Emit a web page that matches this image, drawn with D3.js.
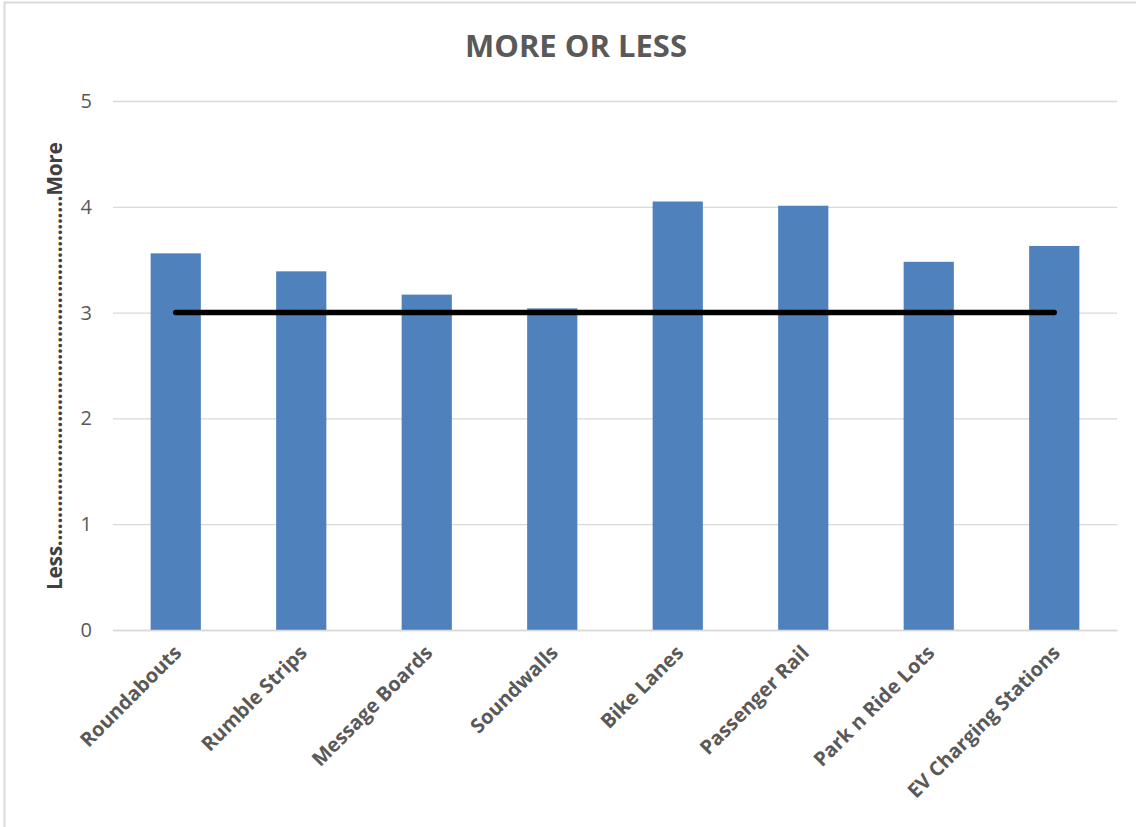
<!DOCTYPE html>
<html><head><meta charset="utf-8">
<script src="https://cdn.jsdelivr.net/npm/d3@7"></script>
<style>body{margin:0;background:#fff}svg{display:block}</style>
</head><body>
<svg id="c" width="1136" height="827"></svg>
<script>
const categories = ["Roundabouts","Rumble Strips","Message Boards","Soundwalls","Bike Lanes","Passenger Rail","Park n Ride Lots","EV Charging Stations"];
const values = [3.56, 3.39, 3.17, 3.04, 4.05, 4.01, 3.48, 3.63];
const baselineValue = [3, 3, 3, 3, 3, 3, 3, 3];
const yTicks = [0, 1, 2, 3, 4, 5];
const title = "MORE OR LESS";
const yLabel = "Less" + ".".repeat(62) + "More";

const svg = d3.select("#c");
const m = {left: 113, right: 1117, top: 101, bottom: 630};
const font = "'Open Sans', sans-serif";
const grey = "#595959";

svg.append("rect").attr("x", 4.5).attr("y", 2.5).attr("width", 1200).attr("height", 900)
  .attr("fill", "#fff").attr("stroke", "#d9d9d9").attr("stroke-width", 2);

const x = d3.scaleBand().domain(categories).range([m.left, m.right]).paddingInner(0.6).paddingOuter(0.3);
const y = d3.scaleLinear().domain([0, 5]).range([m.bottom, m.top]);

// gridlines
const yAxis = d3.axisLeft(y).tickValues(yTicks).tickSize(-(m.right - m.left)).tickPadding(21).tickFormat(d3.format("d"));
const ga = svg.append("g").attr("transform", `translate(${m.left},0)`).call(yAxis);
ga.select(".domain").remove();
ga.selectAll(".tick line").attr("stroke", "#d9d9d9").attr("stroke-width", 1.3);
ga.selectAll(".tick text").attr("fill", grey).attr("font-family", font).attr("font-size", 20);

// bars
svg.append("g").selectAll("rect").data(values).join("rect")
  .attr("x", (d, i) => x(categories[i]))
  .attr("y", d => y(d))
  .attr("width", x.bandwidth())
  .attr("height", d => y(0) - y(d))
  .attr("fill", "#4f81bd");

// baseline line
const line = d3.line().x((d, i) => x(categories[i]) + x.bandwidth() / 2).y(d => y(d));
svg.append("path").datum(baselineValue).attr("d", line)
  .attr("fill", "none").attr("stroke", "#000").attr("stroke-width", 5.5).attr("stroke-linecap", "round");

// x labels
const xAxis = d3.axisBottom(x).tickSize(0).tickPadding(0);
const gx = svg.append("g").attr("transform", `translate(0,${m.bottom})`).call(xAxis);
gx.select(".domain").attr("stroke", "#d9d9d9").attr("stroke-width", 1.3);
gx.selectAll(".tick text")
  .attr("fill", grey).attr("font-family", font).attr("font-size", 20).attr("font-weight", "bold")
  .attr("text-anchor", "end").attr("dy", 0)
  .attr("transform", "translate(7,24) rotate(-45)");

// title
svg.append("text").attr("x", 576).attr("y", 57).attr("text-anchor", "middle")
  .attr("fill", grey).attr("font-family", font).attr("font-size", 31).attr("font-weight", "bold")
  .text(title);

// y label
svg.append("text").attr("transform", "translate(62,366) rotate(-90)").attr("text-anchor", "middle")
  .attr("fill", "#404040").attr("font-family", font).attr("font-size", 21).attr("font-weight", "bold")
  .attr("textLength", 448).attr("lengthAdjust", "spacing")
  .text(yLabel);
</script>
</body></html>
